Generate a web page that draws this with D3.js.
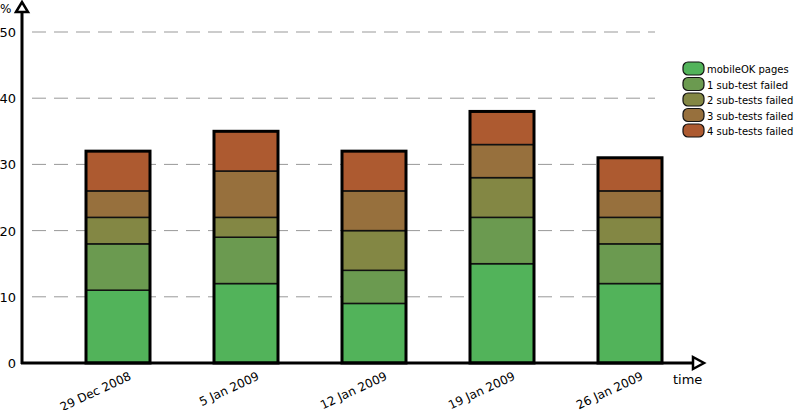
<!DOCTYPE html>
<html><head><meta charset="utf-8">
<script src="https://cdn.jsdelivr.net/npm/d3@7"></script>
<style>body{margin:0;background:#fff}text{font-family:"DejaVu Sans",sans-serif}</style>
</head><body><div id="chart"></div>
<script>
const dates = ["29 Dec 2008", "5 Jan 2009", "12 Jan 2009", "19 Jan 2009", "26 Jan 2009"];
const seriesNames = ["mobileOK pages", "1 sub-test failed", "2 sub-tests failed", "3 sub-tests failed", "4 sub-tests failed"];
const colors = ["#52b35a", "#6b9a50", "#838744", "#97703d", "#ad5a30"];
const mobileOK = [11, 12, 9, 15, 12];
const fail1 = [7, 7, 5, 7, 6];
const fail2 = [4, 3, 6, 6, 4];
const fail3 = [4, 7, 6, 5, 4];
const fail4 = [6, 6, 6, 5, 5];
const yTicks = [0, 10, 20, 30, 40, 50];

const width = 795, height = 410;
const x0 = 22, y0 = 363;
const svg = d3.select("#chart").append("svg").attr("width", width).attr("height", height);

const y = d3.scaleLinear().domain([0, 50]).range([y0, 32]);
const x = d3.scaleBand().domain(dates).range([54, 694]).paddingInner(0.5).paddingOuter(0.25);

// grid
svg.selectAll("line.grid").data(yTicks.filter(d => d > 0)).join("line")
  .attr("x1", x0 + 10).attr("x2", 655).attr("y1", d => y(d)).attr("y2", d => y(d))
  .attr("stroke", "#999").attr("stroke-width", 1).attr("stroke-dasharray", "14,8");
svg.selectAll("text.ytick").data(yTicks).join("text")
  .attr("x", 16).attr("y", d => y(d) + 5).attr("text-anchor", "end")
  .attr("font-size", 13).text(d => d);

// stacked bars
const table = dates.map((d, i) => ({ date: d, s0: mobileOK[i], s1: fail1[i], s2: fail2[i], s3: fail3[i], s4: fail4[i] }));
const stack = d3.stack().keys(["s0", "s1", "s2", "s3", "s4"])(table);
stack.forEach((layer, k) => {
  svg.selectAll("rect.l" + k).data(layer).join("rect")
    .attr("x", d => x(d.data.date)).attr("width", x.bandwidth())
    .attr("y", d => y(d[1])).attr("height", d => y(d[0]) - y(d[1]))
    .attr("fill", colors[k]).attr("stroke", "#111").attr("stroke-width", 1.5);
});
const topLayer = stack[stack.length - 1];
svg.selectAll("rect.outline").data(topLayer).join("rect")
  .attr("x", d => x(d.data.date)).attr("width", x.bandwidth())
  .attr("y", d => y(d[1])).attr("height", d => y0 - y(d[1]))
  .attr("fill", "none").attr("stroke", "#000").attr("stroke-width", 3);

// x labels
svg.selectAll("text.xl").data(dates).join("text")
  .attr("transform", d => `translate(${x(d) + x.bandwidth() / 2 + 14},${y0 + 16}) rotate(-25)`)
  .attr("text-anchor", "end").attr("font-size", 12).text(d => d);

// axes with arrows
svg.append("line").attr("x1", x0).attr("x2", x0).attr("y1", y0 + 1).attr("y2", 10).attr("stroke", "#000").attr("stroke-width", 3);
svg.append("line").attr("x1", x0 - 1).attr("x2", 695).attr("y1", y0).attr("y2", y0).attr("stroke", "#000").attr("stroke-width", 3);
svg.append("path").attr("d", `M${x0 - 6},12 L${x0},2 L${x0 + 6},12 Z`).attr("fill", "#fff").attr("stroke", "#000").attr("stroke-width", 2.5);
svg.append("path").attr("d", `M693,${y0 - 6} L704,${y0} L693,${y0 + 6} Z`).attr("fill", "#fff").attr("stroke", "#000").attr("stroke-width", 2.5);
svg.append("text").attr("x", 0).attr("y", 13).attr("font-size", 12).text("%");
svg.append("text").attr("x", 673).attr("y", 384).attr("font-size", 13).text("time");

// legend
const lg = svg.append("g").attr("transform", "translate(683,62)");
seriesNames.forEach((n, i) => {
  const g = lg.append("g").attr("transform", `translate(0,${i * 15.5})`);
  g.append("rect").attr("width", 21).attr("height", 13).attr("rx", 5)
    .attr("fill", colors[i]).attr("stroke", "#111").attr("stroke-width", 1.2);
  g.append("text").attr("x", 24).attr("y", 11).attr("font-size", 10).text(n);
});
</script></body></html>
